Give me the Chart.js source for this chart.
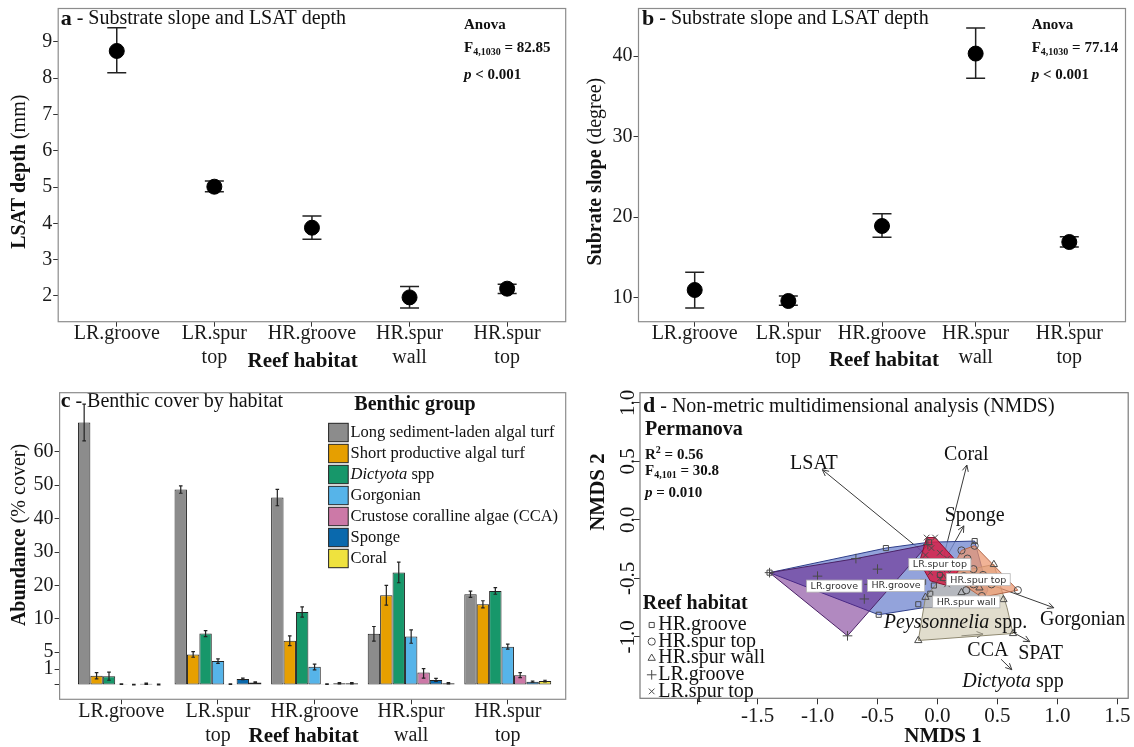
<!DOCTYPE html>
<html>
<head>
<meta charset="utf-8">
<title>Reef habitat, LSAT and benthic cover</title>
<script src="https://cdn.jsdelivr.net/npm/chart.js@4.4.1/dist/chart.umd.min.js"></script>
<style>
  html, body { margin: 0; padding: 0; background: #fff; }
  #fig { position: relative; width: 1134px; height: 747px; overflow: hidden; }
  #fig canvas { position: absolute; left: 0; top: 0; }
</style>
</head>
<body>
<div id="fig">
  <canvas id="chart-a" width="1134" height="747"></canvas>
  <canvas id="chart-b" width="1134" height="747"></canvas>
  <canvas id="chart-c" width="1134" height="747"></canvas>
  <canvas id="chart-d" width="1134" height="747"></canvas>
</div>
<script>
// ---------- values ----------
const HABITATS = [["LR.groove"], ["LR.spur", "top"], ["HR.groove"], ["HR.spur", "wall"], ["HR.spur", "top"]];

// a - LSAT depth (mm)
const LSAT_MEAN = [8.75, 5.01, 3.88, 1.96, 2.20];
const LSAT_LOW  = [8.15, 4.87, 3.56, 1.67, 2.07];
const LSAT_HIGH = [9.39, 5.17, 4.20, 2.26, 2.32];
const LSAT_TICKS = [2, 3, 4, 5, 6, 7, 8, 9];

// b - substrate slope (degree)
const SLOPE_MEAN = [10.96, 9.59, 18.91, 40.33, 16.92];
const SLOPE_LOW  = [8.72, 9.06, 17.50, 37.25, 16.30];
const SLOPE_HIGH = [13.16, 10.21, 20.43, 43.50, 17.58];
const SLOPE_TICKS = [10, 20, 30, 40];

// c - benthic cover (% cover), mean and error half-width per habitat
const BENTHIC_GROUPS = ["Long sediment-laden algal turf", "Short productive algal turf", "Dictyota spp",
  "Gorgonian", "Crustose coralline algae (CCA)", "Sponge", "Coral"];
const BENTHIC_COLORS = ["#8c8c8c", "#e69f00", "#17976a", "#56b4e9", "#cc79a7", "#0a69ad", "#efe23e"];
const COVER_LONG_TURF  = [68.8, 48.7, 46.3, 7.75, 17.35];
const ERR_LONG_TURF    = [5.5, 1.1, 2.45, 1.1, 0.95];
const COVER_SHORT_TURF = [0.59, 4.46, 6.72, 17.05, 14.35];
const ERR_SHORT_TURF   = [0.2, 0.64, 0.73, 2.95, 1.05];
const COVER_DICTYOTA   = [0.56, 7.79, 12.05, 23.9, 18.33];
const ERR_DICTYOTA     = [0.26, 0.45, 1.55, 3.1, 0.98];
const COVER_GORGONIAN  = [0.05, 2.91, 1.57, 7.34, 5.83];
const ERR_GORGONIAN    = [0.02, 0.51, 0.61, 1.0, 0.38];
const COVER_CCA        = [0.02, 0.05, 0.05, 0.79, 0.62];
const ERR_CCA          = [0.01, 0.02, 0.02, 0.36, 0.16];
const COVER_SPONGE     = [0.08, 0.38, 0.11, 0.32, 0.21];
const ERR_SPONGE       = [0.04, 0.05, 0.04, 0.10, 0.04];
const COVER_CORAL      = [0.03, 0.15, 0.11, 0.11, 0.25];
const ERR_CORAL        = [0.02, 0.04, 0.04, 0.04, 0.05];
const COVER_TICKS = [0, 1, 5, 10, 20, 30, 40, 50, 60];
// the cover axis is squeezed below 10 %: break values and their stretched axis units
const COVER_BREAKS  = [0, 1, 5, 10, 60];
const COVER_STRETCH = [0, 4.7, 9.8, 19.8, 69.8];

// d - NMDS site scores per habitat
const NMDS_HR_GROOVE = [[-1.40, -0.45], [-0.43, -0.24], [-0.49, -0.81], [-0.16, -0.72], [-0.12, -0.53],
  [-0.06, -0.63], [-0.03, -0.56], [0.31, -0.18], [-0.07, -0.19], [0.02, -0.47]];
const NMDS_HR_SPUR_TOP = [[0.20, -0.26], [0.31, -0.22], [0.25, -0.33], [0.18, -0.40], [0.30, -0.42], [0.38, -0.47],
  [0.22, -0.48], [0.14, -0.50], [0.30, -0.55], [0.45, -0.55], [0.67, -0.60], [0.37, -0.65], [0.24, -0.60], [0.15, -0.38]];
const NMDS_HR_SPUR_WALL = [[-0.16, -1.03], [0.47, -0.38], [0.63, -0.97], [0.55, -0.68], [0.05, -0.50],
  [0.20, -0.62], [0.35, -0.58], [-0.10, -0.66]];
const NMDS_LR_GROOVE = [[-1.40, -0.45], [-1.00, -0.48], [-0.68, -0.33], [-0.50, -0.42], [-0.57, -0.55],
  [-0.61, -0.675], [-0.75, -0.99], [-0.08, -0.21]];
const NMDS_LR_SPUR_TOP = [[-0.09, -0.15], [-0.02, -0.15], [-0.05, -0.24], [0.02, -0.28], [0.08, -0.33], [-0.10, -0.30],
  [0.15, -0.38], [0.20, -0.40], [0.04, -0.42], [-0.06, -0.45], [0.02, -0.50], [0.08, -0.55], [-0.15, -0.36], [0.10, -0.45]];

// convex hulls
const HULL_HR_GROOVE = [[-1.40, -0.45], [-0.43, -0.24], [-0.07, -0.19], [0.31, -0.18], [0.42, -0.60], [0.35, -0.74], [-0.12, -0.75], [-0.49, -0.81]];
const HULL_LR_GROOVE = [[-1.40, -0.45], [-0.68, -0.33], [-0.08, -0.21], [-0.75, -0.99]];
const HULL_HR_SPUR_WALL = [[-0.16, -1.03], [-0.10, -0.66], [0.05, -0.47], [0.47, -0.38], [0.58, -0.75], [0.63, -0.97]];
const HULL_HR_SPUR_TOP = [[0.20, -0.26], [0.31, -0.22], [0.67, -0.60], [0.37, -0.66], [0.14, -0.50], [0.14, -0.38]];
const HULL_LR_SPUR_TOP = [[-0.09, -0.15], [-0.02, -0.15], [0.20, -0.40], [0.08, -0.56], [-0.06, -0.52], [-0.15, -0.36]];
const HULL_TAGS = [["LR.groove", -0.86, -0.565], ["HR.groove", -0.345, -0.56], ["LR.spur top", 0.02, -0.38],
  ["HR.spur top", 0.34, -0.51], ["HR.spur wall", 0.24, -0.70]];

// fitted vectors
const VECTOR_FROM = [[0.03, -0.40], [0.03, -0.40], [0.03, -0.40], [0.03, -0.40], [0.63, -0.96], [0.20, -0.99], [0.53, -1.19]];
const VECTOR_TO   = [[-0.96, 0.43], [0.245, 0.47], [0.22, -0.05], [0.97, -0.75], [0.77, -1.04], [0.38, -0.975], [0.62, -1.28]];
const VECTOR_LABELS = [["LSAT", -1.03, 0.485], ["Coral", 0.24, 0.555], ["Sponge", 0.31, 0.04], ["Gorgonian", 1.21, -0.855],
  ["SPAT", 0.86, -1.14], ["CCA", 0.42, -1.115], ["Peyssonnelia| spp.", 0.15, -0.875], ["Dictyota| spp", 0.63, -1.38]];

const NMDS_X_TICKS = [-2, -1.5, -1, -0.5, 0, 0.5, 1, 1.5];
const NMDS_Y_TICKS = [-1, -0.5, 0, 0.5, 1];

// ---------- drawing helpers ----------
const SERIF = '"Liberation Serif", "Times New Roman", serif';
const SANS = '"DejaVu Sans", "Liberation Sans", sans-serif';
Chart.defaults.font.family = SERIF;
Chart.defaults.color = "#1a1a1a";
Chart.defaults.animation = false;
Chart.defaults.events = [];

const W = 1134, H = 747;
const BOX_A = [58.2, 8.3, 565.7, 321.7];
const BOX_B = [638.5, 8.3, 1131, 321.7];
const BOX_C = [59.6, 392.7, 565.7, 699.3];
const BOX_D = [640, 392.7, 1131, 698.3];

function fontOf(p) {
  return (p.i ? "italic " : "") + (p.b ? "bold " : "") + (p.s || 20) + "px " + (p.f || SERIF);
}

function drawText(ctx, parts, x, y, align = "left") {
  ctx.save();
  ctx.textBaseline = "middle";
  ctx.textAlign = "left";
  let total = 0;
  const widths = parts.map(p => { ctx.font = fontOf(p); const w = ctx.measureText(p.t).width; total += w; return w; });
  let cx = align === "center" ? x - total / 2 : align === "right" ? x - total : x;
  parts.forEach((p, k) => {
    ctx.font = fontOf(p);
    ctx.fillStyle = p.c || "#111";
    ctx.fillText(p.t, cx, y + (p.dy || 0));
    cx += widths[k];
  });
  ctx.restore();
}

function drawTextUp(ctx, parts, x, y) {
  ctx.save();
  ctx.translate(x, y);
  ctx.rotate(-Math.PI / 2);
  drawText(ctx, parts, 0, 0, "center");
  ctx.restore();
}

function anova(ctx, x, y, fval) {
  drawText(ctx, [{ t: "Anova", b: 1, s: 15 }], x, y);
  drawText(ctx, [{ t: "F", b: 1, s: 15 }, { t: "4,1030", b: 1, s: 10, dy: 4 }, { t: " = " + fval, b: 1, s: 15 }], x, y + 23);
  drawText(ctx, [{ t: "p", b: 1, i: 1, s: 15 }, { t: " < 0.001", b: 1, s: 15 }], x, y + 50);
}

function fixedLayout(box, yw, xh) {
  return { padding: { left: box[0] - yw, top: box[1], right: W - box[2], bottom: H - box[3] - xh } };
}

function fitTo(size) {
  return s => {
    if (s.isHorizontal()) s.height = size; else s.width = size;
    s.paddingLeft = s.paddingRight = s.paddingTop = s.paddingBottom = 0;
  };
}

const TICK_MARKS = { display: true, drawOnChartArea: false, drawTicks: true, tickLength: 5, color: "#333", lineWidth: 1, offset: false };

function habitatAxis(min, xh) {
  return {
    type: "linear", min, max: 4.6, offset: false,
    afterBuildTicks: s => { s.ticks = HABITATS.map((_, i) => ({ value: i })); },
    afterFit: fitTo(xh),
    grid: TICK_MARKS, border: { display: false },
    ticks: {
      autoSkip: false, maxRotation: 0, minRotation: 0, padding: -4.5,
      font: { size: 20, lineHeight: 1.2 }, color: "#1a1a1a",
      callback: v => HABITATS[v]
    }
  };
}

// linear scale with a piecewise stretched value axis (used for % cover)
class SquishScale extends Chart.LinearScale {
  stretchOf(v) {
    const b = COVER_BREAKS, s = COVER_STRETCH;
    let k = 0;
    while (k < b.length - 2 && v > b[k + 1]) k++;
    return s[k] + (v - b[k]) * (s[k + 1] - s[k]) / (b[k + 1] - b[k]);
  }
  getPixelForValue(v) {
    const t0 = this.stretchOf(this.min), t1 = this.stretchOf(this.max);
    return this.getPixelForDecimal((this.stretchOf(v) - t0) / (t1 - t0));
  }
}
SquishScale.id = "squish";
Chart.register(SquishScale);

const framePlugin = {
  id: "frame",
  afterDraw(chart, args, opts) {
    const { ctx, chartArea: a } = chart;
    ctx.save();
    ctx.strokeStyle = opts.color || "#8c8c8c";
    ctx.lineWidth = opts.width || 1.2;
    ctx.strokeRect(a.left, a.top, a.right - a.left, a.bottom - a.top);
    ctx.restore();
  }
};

function drawErrorBars(chart, opts) {
  const { ctx } = chart;
  const yScale = chart.scales.y;
  ctx.save();
  ctx.strokeStyle = opts.color || "#222";
  ctx.lineWidth = opts.width || 1.4;
  chart.data.datasets.forEach((ds, di) => {
    if (!ds.errLow) return;
    chart.getDatasetMeta(di).data.forEach((el, i) => {
      const x = el.x, c = opts.cap;
      const y1 = yScale.getPixelForValue(ds.errLow[i]), y2 = yScale.getPixelForValue(ds.errHigh[i]);
      ctx.beginPath();
      ctx.moveTo(x, y1); ctx.lineTo(x, y2);
      ctx.moveTo(x - c, y1); ctx.lineTo(x + c, y1);
      ctx.moveTo(x - c, y2); ctx.lineTo(x + c, y2);
      ctx.stroke();
    });
  });
  ctx.restore();
}

const errorBarPlugin = {
  id: "errorBars",
  beforeDatasetsDraw(chart, args, opts) { if (opts.under) drawErrorBars(chart, opts); },
  afterDatasetsDraw(chart, args, opts) { if (!opts.under) drawErrorBars(chart, opts); }
};

function meanChart(id, box, yw, mean, low, high, yMin, yMax, yTicks, notes) {
  return new Chart(document.getElementById(id), {
    type: "scatter",
    data: {
      datasets: [{
        data: mean.map((v, i) => ({ x: i, y: v })), errLow: low, errHigh: high,
        pointRadius: 7.5, pointHoverRadius: 7.5, backgroundColor: "#000", borderColor: "#000"
      }]
    },
    options: {
      responsive: false,
      layout: fixedLayout(box, yw, 60),
      plugins: { legend: { display: false }, tooltip: { enabled: false }, errorBars: { under: true, cap: 9.5, width: 1.5 } },
      scales: {
        x: habitatAxis(-0.6, 60),
        y: {
          type: "linear", min: yMin, max: yMax,
          afterBuildTicks: s => { s.ticks = yTicks.map(v => ({ value: v })); },
          afterFit: fitTo(yw),
          grid: TICK_MARKS, border: { display: false },
          ticks: { padding: 1, font: { size: 20 }, color: "#1a1a1a" }
        }
      }
    },
    plugins: [framePlugin, errorBarPlugin, notes]
  });
}

// ---------- a ----------
meanChart("chart-a", BOX_A, BOX_A[0], LSAT_MEAN, LSAT_LOW, LSAT_HIGH, 1.29, 9.92, LSAT_TICKS, {
  id: "notesA",
  afterDraw(chart) {
    const ctx = chart.ctx;
    drawText(ctx, [{ t: "a", b: 1, s: 22 }, { t: " - Substrate slope and LSAT depth" }], 60.7, 19);
    anova(ctx, 464, 25, "82.85");
    drawTextUp(ctx, [{ t: "LSAT depth", b: 1 }, { t: " (mm)" }], 19.6, 171.7);
    drawText(ctx, [{ t: "Reef habitat", b: 1, s: 21 }], 302.7, 361.7, "center");
  }
});

// ---------- b ----------
meanChart("chart-b", BOX_B, 50, SLOPE_MEAN, SLOPE_LOW, SLOPE_HIGH, 7.02, 45.93, SLOPE_TICKS, {
  id: "notesB",
  afterDraw(chart) {
    const ctx = chart.ctx;
    drawText(ctx, [{ t: "b", b: 1, s: 22 }, { t: " - Substrate slope and LSAT depth" }], 642, 19);
    anova(ctx, 1031.7, 25, "77.14");
    drawTextUp(ctx, [{ t: "Subrate slope", b: 1 }, { t: " (degree)" }], 596, 171.7);
    drawText(ctx, [{ t: "Reef habitat", b: 1, s: 21 }], 884, 360.5, "center");
  }
});

// ---------- c ----------
const COVER = [COVER_LONG_TURF, COVER_SHORT_TURF, COVER_DICTYOTA, COVER_GORGONIAN, COVER_CCA, COVER_SPONGE, COVER_CORAL];
const COVER_ERR = [ERR_LONG_TURF, ERR_SHORT_TURF, ERR_DICTYOTA, ERR_GORGONIAN, ERR_CCA, ERR_SPONGE, ERR_CORAL];

new Chart(document.getElementById("chart-c"), {
  type: "bar",
  data: {
    datasets: BENTHIC_GROUPS.map((g, k) => ({
      label: g,
      data: COVER[k].map((v, i) => ({ x: i, y: v })),
      errLow: COVER[k].map((v, i) => v - COVER_ERR[k][i]),
      errHigh: COVER[k].map((v, i) => v + COVER_ERR[k][i]),
      backgroundColor: BENTHIC_COLORS[k], borderColor: "#222", borderWidth: 1, borderSkipped: false,
      categoryPercentage: 0.9, barPercentage: 1
    }))
  },
  options: {
    responsive: false,
    layout: fixedLayout(BOX_C, BOX_C[0], 47),
    plugins: { legend: { display: false }, tooltip: { enabled: false }, errorBars: { under: false, cap: 1.8, width: 1.2 } },
    scales: {
      x: habitatAxis(-0.64, 47),
      y: {
        type: "squish", min: -0.915, max: 77.7,
        afterBuildTicks: s => { s.ticks = COVER_TICKS.map(v => ({ value: v })); },
        afterFit: fitTo(BOX_C[0]),
        grid: TICK_MARKS, border: { display: false },
        ticks: { padding: 1, font: { size: 20 }, color: "#1a1a1a", callback: v => (v === 0 ? "" : String(v)) }
      }
    }
  },
  plugins: [framePlugin, errorBarPlugin, {
    id: "notesC",
    beforeDatasetsDraw(chart) {
      drawText(chart.ctx, [{ t: "c", b: 1, s: 22 }, { t: " - Benthic cover by habitat" }], 60.7, 401.7);
    },
    afterDraw(chart) {
      const ctx = chart.ctx;
      drawText(ctx, [{ t: "Benthic group", b: 1 }], 415, 405, "center");
      BENTHIC_GROUPS.forEach((g, k) => {
        const y = 423.3 + 21 * k;
        ctx.save();
        ctx.fillStyle = BENTHIC_COLORS[k];
        ctx.fillRect(328.6, y, 19.6, 18.4);
        ctx.strokeStyle = "#222"; ctx.lineWidth = 1;
        ctx.strokeRect(328.6, y, 19.6, 18.4);
        ctx.restore();
        const parts = g === "Dictyota spp" ? [{ t: "Dictyota", i: 1, s: 16.5 }, { t: " spp", s: 16.5 }] : [{ t: g, s: 16.5 }];
        drawText(ctx, parts, 350.5, y + 9.2);
      });
      drawTextUp(ctx, [{ t: "Abundance", b: 1 }, { t: " (% cover)" }], 19.6, 535);
      drawText(ctx, [{ t: "Reef habitat", b: 1, s: 21 }], 303.6, 736.7, "center");
    }
  }]
});

// ---------- d ----------
const SITE_SETS = [
  { name: "HR.groove", pts: NMDS_HR_GROOVE, style: "rect", r: 3.6 },
  { name: "HR.spur top", pts: NMDS_HR_SPUR_TOP, style: "circle", r: 3.6 },
  { name: "HR.spur wall", pts: NMDS_HR_SPUR_WALL, style: "triangle", r: 4.2 },
  { name: "LR.groove", pts: NMDS_LR_GROOVE, style: "cross", r: 4.8 },
  { name: "LR.spur top", pts: NMDS_LR_SPUR_TOP, style: "crossRot", r: 4 }
];
const HULL_SETS = [
  { pts: HULL_LR_SPUR_TOP, fill: "rgba(215,30,70,0.85)", line: "#8a1030", order: 1 },
  { pts: HULL_HR_SPUR_TOP, fill: "rgba(236,150,110,0.72)", line: "#b0664a", order: 2 },
  { pts: HULL_HR_SPUR_WALL, fill: "rgba(205,198,172,0.6)", line: "#8e8870", order: 3 },
  { pts: HULL_LR_GROOVE, fill: "rgba(100,20,130,0.5)", line: "#4a2266", order: 4 },
  { pts: HULL_HR_GROOVE, fill: "rgba(120,140,210,0.8)", line: "#2f3f8a", order: 5 }
];
const xy = p => ({ x: p[0], y: p[1] });

const nmdsDatasets = [
  ...SITE_SETS.map(s => ({
    type: "scatter", label: s.name, data: s.pts.map(xy), order: 0,
    pointStyle: s.style, pointRadius: s.r, pointHoverRadius: s.r, borderWidth: 1,
    borderColor: "#4a4a4a", backgroundColor: "rgba(0,0,0,0)"
  })),
  ...HULL_SETS.map(h => ({
    type: "line", data: [...h.pts, h.pts[0]].map(xy), order: h.order, fill: "shape",
    backgroundColor: h.fill, borderColor: h.line, borderWidth: 1, pointRadius: 0, tension: 0
  })),
  ...VECTOR_TO.map((p, k) => ({
    type: "line", isArrow: true, data: [xy(VECTOR_FROM[k]), xy(p)], order: 10, fill: false,
    borderColor: "#3a3a3a", borderWidth: 1, pointRadius: 0
  }))
];

function hullTag(ctx, text, x, y) {
  ctx.save();
  ctx.font = "9.5px " + SANS;
  const w = ctx.measureText(text).width + 8;
  ctx.fillStyle = "#fff";
  ctx.fillRect(x - w / 2, y - 6, w, 12);
  ctx.strokeStyle = "#b5b5b5"; ctx.lineWidth = 0.8;
  ctx.strokeRect(x - w / 2, y - 6, w, 12);
  ctx.fillStyle = "#333"; ctx.textAlign = "center"; ctx.textBaseline = "middle";
  ctx.fillText(text, x, y + 0.5);
  ctx.restore();
}

new Chart(document.getElementById("chart-d"), {
  type: "scatter",
  data: { datasets: nmdsDatasets },
  options: {
    responsive: false,
    layout: fixedLayout(BOX_D, 40, 48),
    plugins: { legend: { display: false }, tooltip: { enabled: false }, frame: { color: "#7a7a7a", width: 1.2 } },
    scales: {
      x: {
        type: "linear", min: -2.48, max: 1.59, offset: false,
        afterBuildTicks: s => { s.ticks = NMDS_X_TICKS.map(v => ({ value: v })); },
        afterFit: fitTo(48),
        grid: { ...TICK_MARKS, tickLength: 6 }, border: { display: false },
        ticks: { autoSkip: false, maxRotation: 0, padding: 0, font: { size: 21, lineHeight: 1.2 }, color: "#1a1a1a",
          callback: v => (v <= -2 ? "" : v.toFixed(1)) }
      },
      y: {
        type: "linear", min: -1.524, max: 1.088,
        afterBuildTicks: s => { s.ticks = NMDS_Y_TICKS.map(v => ({ value: v })); },
        afterFit: fitTo(40),
        grid: { ...TICK_MARKS, tickLength: 6 }, border: { display: false },
        ticks: { display: false }
      }
    }
  },
  plugins: [framePlugin, {
    id: "notesD",
    afterDatasetDraw(chart, args) {
      const ds = chart.data.datasets[args.index];
      if (!ds.isArrow) return;
      const pts = args.meta.data, a = pts[0], b = pts[pts.length - 1];
      const ang = Math.atan2(b.y - a.y, b.x - a.x), L = 7, sp = Math.PI / 7;
      const ctx = chart.ctx;
      ctx.save();
      ctx.strokeStyle = "#3a3a3a"; ctx.lineWidth = 1;
      ctx.beginPath();
      ctx.moveTo(b.x - L * Math.cos(ang - sp), b.y - L * Math.sin(ang - sp));
      ctx.lineTo(b.x, b.y);
      ctx.lineTo(b.x - L * Math.cos(ang + sp), b.y - L * Math.sin(ang + sp));
      ctx.stroke();
      ctx.restore();
    },
    afterDraw(chart) {
      const ctx = chart.ctx, sx = chart.scales.x, sy = chart.scales.y;
      HULL_TAGS.forEach(([t, x, y]) => hullTag(ctx, t, sx.getPixelForValue(x), sy.getPixelForValue(y)));
      VECTOR_LABELS.forEach(([t, x, y]) => {
        const [a, b] = t.split("|");
        const parts = b ? [{ t: a, i: 1 }, { t: b }] : [{ t: a }];
        drawText(ctx, parts, sx.getPixelForValue(x), sy.getPixelForValue(y), "center");
      });
      NMDS_Y_TICKS.forEach(v => drawTextUp(ctx, [{ t: v.toFixed(1), s: 21 }], 628, sy.getPixelForValue(v)));
      drawText(ctx, [{ t: "d", b: 1, s: 22 }, { t: " - Non-metric multidimensional analysis (NMDS)" }], 643, 406.7);
      drawText(ctx, [{ t: "Permanova", b: 1 }], 645, 430);
      drawText(ctx, [{ t: "R", b: 1, s: 15 }, { t: "2", b: 1, s: 10, dy: -5 }, { t: " = 0.56", b: 1, s: 15 }], 645, 455);
      drawText(ctx, [{ t: "F", b: 1, s: 15 }, { t: "4,101", b: 1, s: 10, dy: 4 }, { t: " = 30.8", b: 1, s: 15 }], 645, 471);
      drawText(ctx, [{ t: "p", b: 1, i: 1, s: 15 }, { t: " = 0.010", b: 1, s: 15 }], 645, 493);
      drawText(ctx, [{ t: "Reef habitat", b: 1 }], 642.7, 604);
      SITE_SETS.forEach((s, k) => {
        const y = 625 + 16.6 * k;
        ctx.save();
        ctx.strokeStyle = "#4a4a4a"; ctx.fillStyle = "rgba(0,0,0,0)"; ctx.lineWidth = 1;
        Chart.helpers.drawPoint(ctx, { pointStyle: s.style, radius: s.r, borderWidth: 1, rotation: 0 }, 651.7, y);
        ctx.restore();
        drawText(ctx, [{ t: s.name }], 658.3, y);
      });
      drawText(ctx, [{ t: "NMDS 1", b: 1, s: 21 }], 943, 736.7, "center");
      drawTextUp(ctx, [{ t: "NMDS 2", b: 1, s: 21 }], 598.5, 492);
    }
  }]
});
</script>
</body>
</html>
